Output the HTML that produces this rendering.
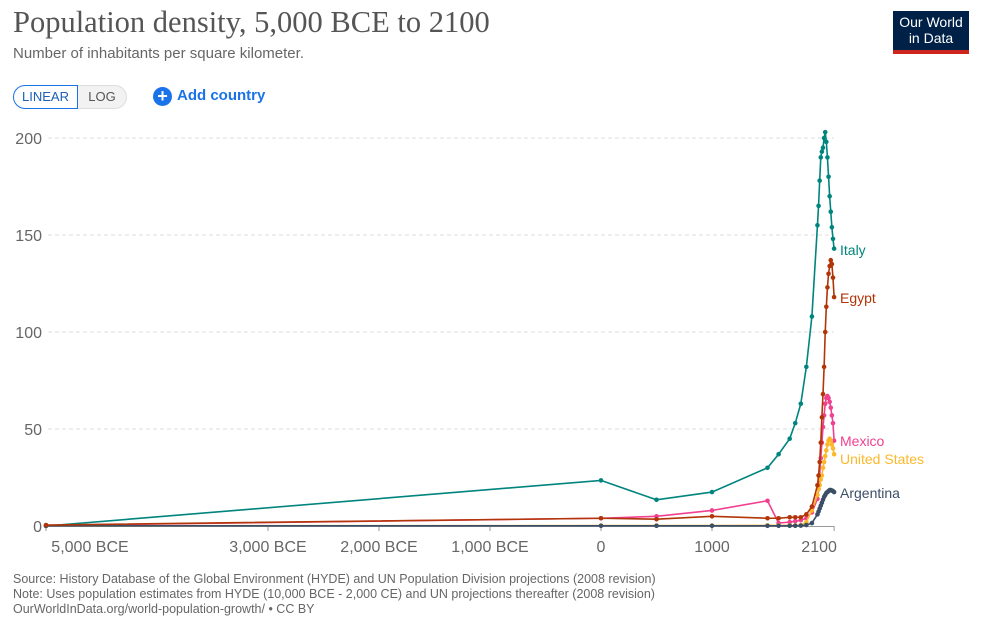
<!DOCTYPE html>
<html><head><meta charset="utf-8"><style>
body{margin:0;background:#fff;font-family:"Liberation Sans",sans-serif;}
#wrap{position:relative;width:983px;height:626px;overflow:hidden}
.t{position:absolute;white-space:nowrap}
</style></head><body>
<div id="wrap">
<div class="t" style="left:13px;top:5px;font-family:'Liberation Serif',serif;font-size:30.5px;color:#555">Population density, 5,000 BCE to 2100</div>
<div class="t" style="left:13px;top:45px;font-size:15px;color:#666">Number of inhabitants per square kilometer.</div>
<div style="position:absolute;left:893px;top:11px;width:76px;height:43px;background:#002147;border-bottom:4px solid #ce261e;color:#fff;font-size:14px;line-height:16px;text-align:center;padding-top:3px;box-sizing:border-box">Our World<br>in Data</div>
<div style="position:absolute;left:13px;top:85px;width:65px;height:24px;border:1px solid #1a73e8;border-radius:13px 0 0 13px;box-sizing:border-box;color:#1a5fb4;font-size:13px;line-height:22px;text-align:center">LINEAR</div>
<div style="position:absolute;left:78px;top:85px;width:49px;height:24px;border:1px solid #ddd;border-left:none;border-radius:0 13px 13px 0;box-sizing:border-box;background:#f2f2f2;color:#555;font-size:13px;line-height:22px;text-align:center">LOG</div>
<div class="t" style="left:153px;top:85px;color:#1a73e8;font-size:15px;font-weight:bold;line-height:22px"><span style="display:inline-block;width:19px;height:19px;border-radius:50%;background:#1a73e8;color:#fff;text-align:center;line-height:19px;font-size:18px;vertical-align:-2px;margin-right:5px">+</span>Add country</div>
<svg id="chart" width="983" height="626" style="position:absolute;left:0;top:0"></svg>
<div class="t" style="left:13px;top:572px;font-size:12.5px;line-height:15px;color:#666">Source: History Database of the Global Environment (HYDE) and UN Population Division projections (2008 revision)<br>Note: Uses population estimates from HYDE (10,000 BCE - 2,000 CE) and UN projections thereafter (2008 revision)<br>OurWorldInData.org/world-population-growth/ • CC BY</div>
</div>
<script>
const years=[-5000,0,500,1000,1500,1600,1700,1750,1800,1850,1900,1950,1960,1970,1980,1990,2000,2010,2020,2030,2040,2050,2060,2070,2080,2090,2100];
const italy=[0,23.5,13.5,17.5,30,37,45,53,63,82,108,155,165,178,190,193,195,200,203,198,190,180,170,162,154,148,143];
const egypt=[0.5,4,3.5,5,4,4,4.5,4.5,4.5,6,10,21,26,33,43,56,68,82,100,113,123,130,134,137,135,128,118];
const mexico=[0.3,4,5,8,13,1.5,2,2.5,3,4,7,14,19,26,35,43,51,57,63,66,67,66,64,61,57,53,44];
const usa=[0.1,0.2,0.2,0.2,0.3,0.3,0.3,0.3,0.4,2,8,16,19,21,24,26,30,33,36,39,42,44,45,44,42,40,37];
const argentina=[0.1,0.1,0.1,0.1,0.1,0.1,0.1,0.1,0.2,0.5,1.5,6,7.5,9,10.5,12,13.5,15,16,17,17.5,18,18.5,18.5,18.3,18,17.5];
const yTicks=[0,50,100,150,200];
const xTicks=[-5000,-3000,-2000,-1000,0,1000,2100];
const xTickLabels=["5,000 BCE","3,000 BCE","2,000 BCE","1,000 BCE","0","1000","2100"];
const series=[
 {name:"Italy",vals:italy,color:"#00847e",ly:250},
 {name:"Mexico",vals:mexico,color:"#f0408f",ly:441},
 {name:"United States",vals:usa,color:"#fbb82b",ly:459},
 {name:"Argentina",vals:argentina,color:"#3c4e66",ly:493},
 {name:"Egypt",vals:egypt,color:"#b13507",ly:298}];
const X=y=>601+y*0.111, Y=v=>526-v*1.94;
const svg=document.getElementById('chart'),NS="http://www.w3.org/2000/svg";
function mk(t,a){const e=document.createElementNS(NS,t);for(const k in a)e.setAttribute(k,a[k]);svg.appendChild(e);return e;}
yTicks.forEach(v=>{
 if(v>0){const g=mk('line',{x1:48,x2:834,y1:Y(v),y2:Y(v),stroke:'#ddd','stroke-dasharray':'4,3'});
 
 }
 const t=mk('text',{x:42,y:Y(v)+6,'text-anchor':'end','font-size':16,fill:'#666','font-family':'Liberation Sans'});
 t.textContent=v;
 
 
});
const ax=mk('line',{x1:46,x2:834,y1:526.5,y2:526.5,stroke:'#999'});


xTicks.forEach((yr,i)=>{
 const tk=mk('line',{x1:X(yr),x2:X(yr),y1:526,y2:531,stroke:'#999'});
 
 
 let x=X(yr);if(i==0)x=Math.max(x,90);if(i==xTicks.length-1)x=X(yr)-15;
 const t=mk('text',{x:x,y:552,'text-anchor':'middle','font-size':16,fill:'#666','font-family':'Liberation Sans'});
 t.textContent=xTickLabels[i];
 
 
});
series.forEach(s=>{
 const pts=years.map((y,i)=>X(y)+','+Y(s.vals[i])).join(' ');
 const l=mk('polyline',{points:pts,fill:'none',stroke:s.color,'stroke-width':1.6});
 
 
 years.forEach((y,i)=>{const c=mk('circle',{cx:X(y),cy:Y(s.vals[i]),r:2.3,fill:s.color});
 
 });
 const t=mk('text',{x:840,y:s.ly+5,'font-size':14,fill:s.color,'font-family':'Liberation Sans'});
 t.textContent=s.name;
 
 
});
</script>
</body></html>
